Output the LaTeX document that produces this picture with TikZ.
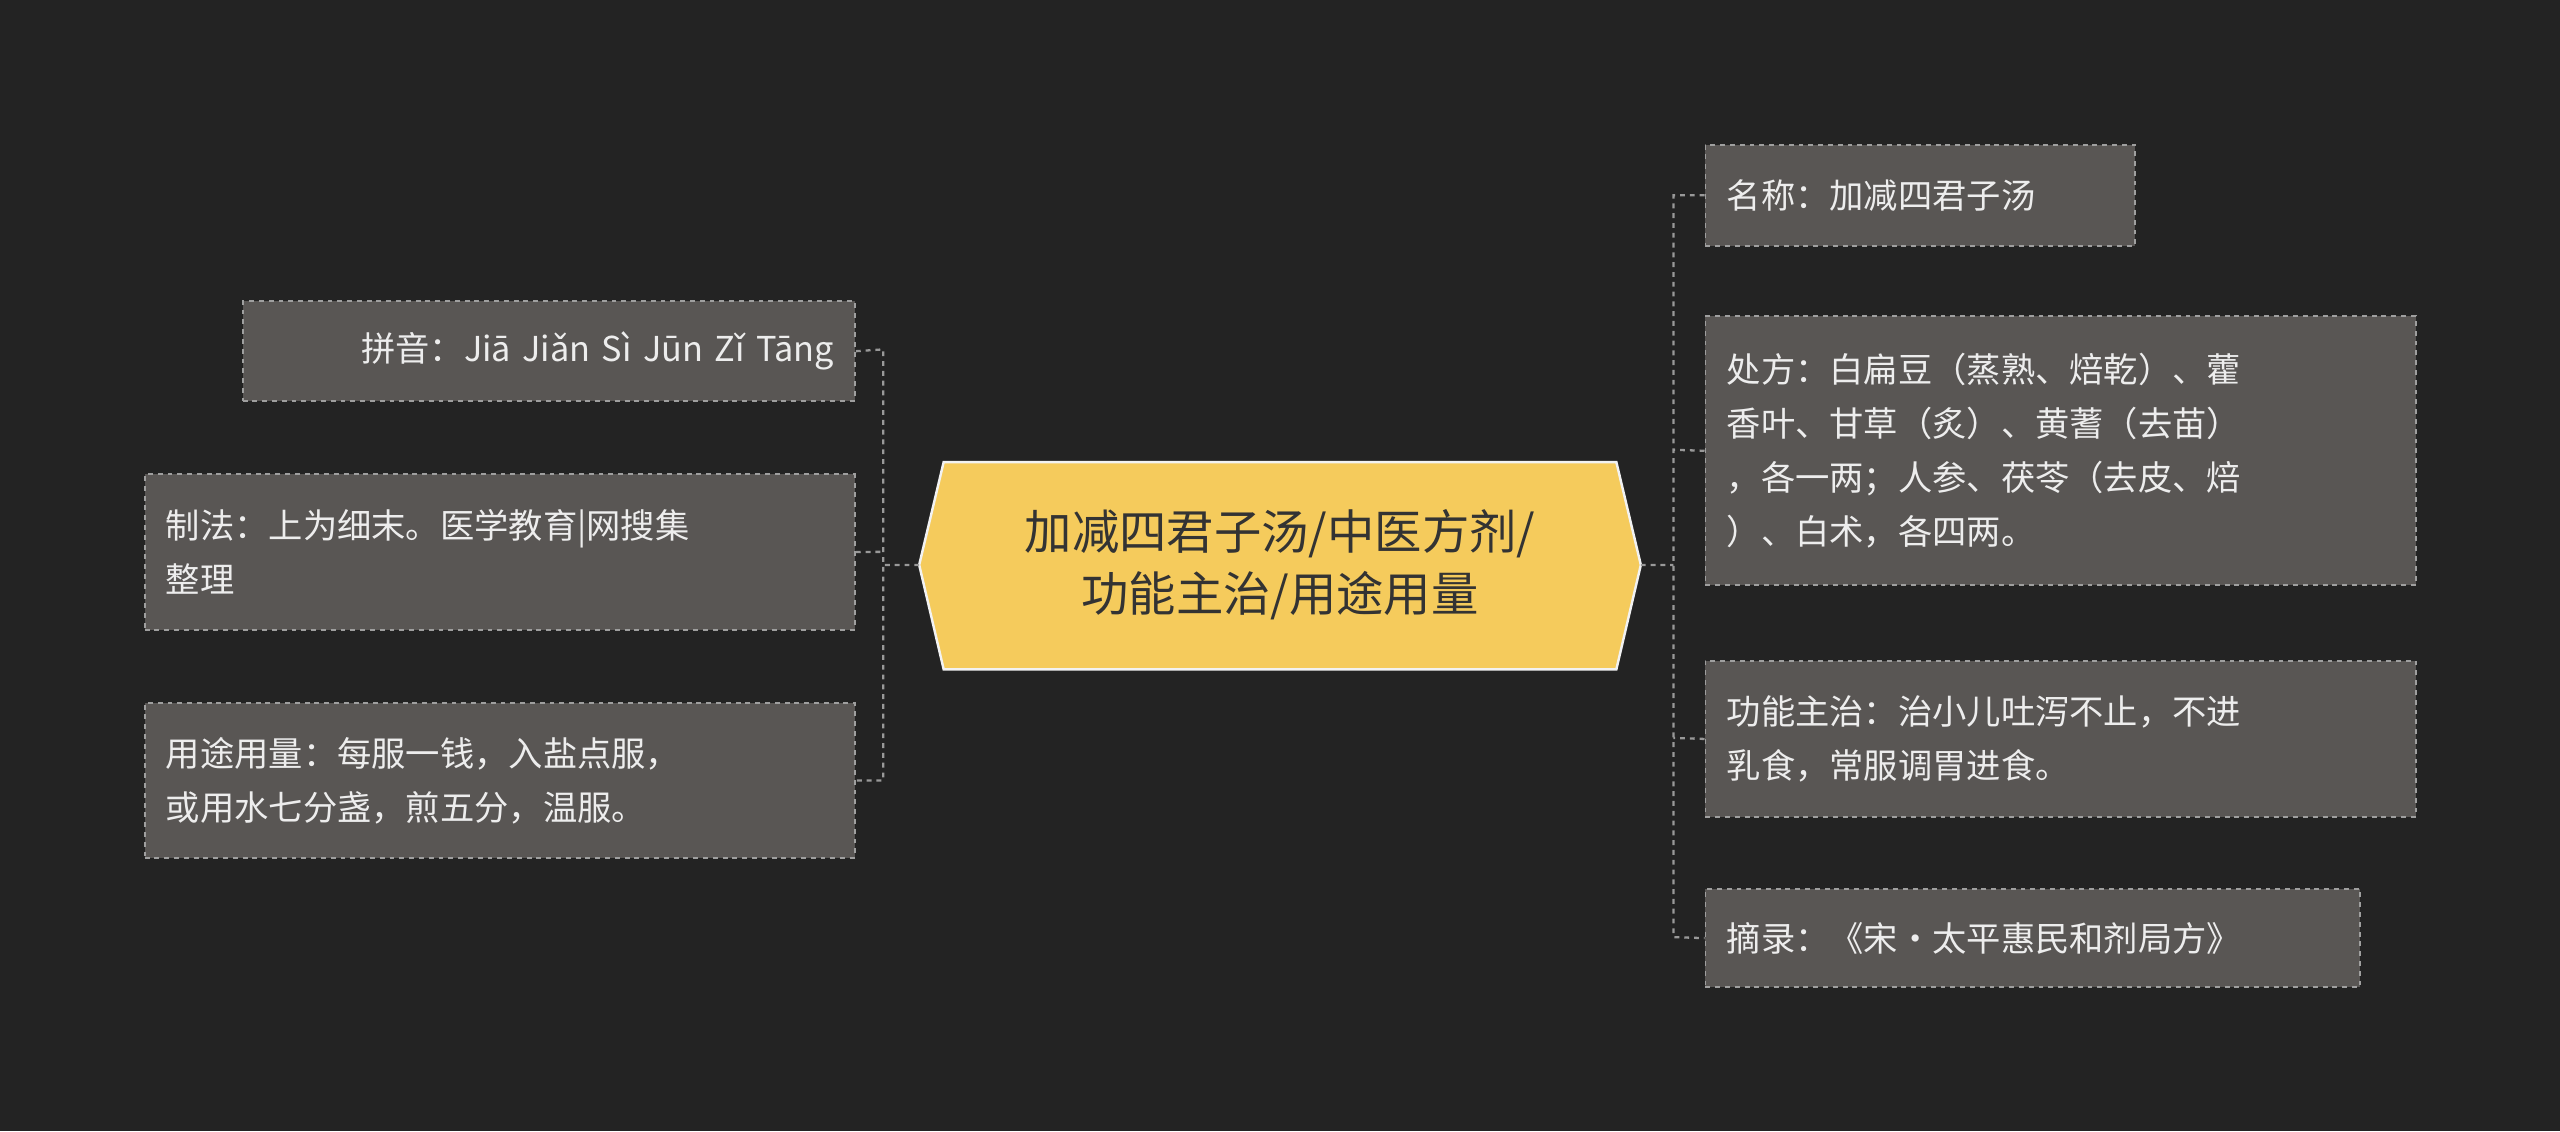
\documentclass[tikz,border=0pt]{standalone}
\usepackage{fontspec}
\setmainfont{Noto Sans CJK SC}
\begin{document}
\begin{tikzpicture}[x=1pt,y=-1pt,
  leaf/.style={draw=gray!75,dashed,line width=1.2pt,fill=leafc,text=txt,font=\fontsize{21}{33}\selectfont,inner xsep=13pt,align=left,anchor=north west},
  conn/.style={draw=gray!80,dashed,line width=1.4pt}]
\definecolor{bg}{HTML}{232323}
\definecolor{leafc}{HTML}{595654}
\definecolor{txt}{HTML}{EDEDED}
\definecolor{cen}{HTML}{F5CB5C}
\fill[bg] (0,0) rectangle (1568,693);
\useasboundingbox (0,0) rectangle (1568,693);
% center
\draw[fill=cen,draw=white!90!gray,line width=1.5pt] (563,346) -- (578,283) -- (990,283) -- (1005,346) -- (990,410) -- (578,410) -- cycle;
\node[text=black!80,font=\fontsize{29}{38}\selectfont,align=center] (c) at (784,346) {加减四君子汤/中医方剂/\\功能主治/用途用量};
\coordinate (cl) at (563,346);
\coordinate (cr) at (1005,346);
% left nodes
\node[leaf,minimum width=375,minimum height=61,text width=349,align=right] (l1) at (148,184) {拼音：Jiā Jiǎn Sì Jūn Zǐ Tāng};
\node[leaf,minimum width=435,minimum height=95,text width=409] (l2) at (88,290) {制法：上为细末。医学教育|网搜集\\整理};
\node[leaf,minimum width=435,minimum height=95,text width=409] (l3) at (88,430) {用途用量：每服一钱，入盐点服，\\或用水七分盏，煎五分，温服。};
% right nodes
\node[leaf,minimum width=263,minimum height=62,text width=237] (r1) at (1044,88) {名称：加减四君子汤};
\node[leaf,minimum width=435,minimum height=165,text width=409] (r2) at (1044,193) {处方：白扁豆（蒸熟、焙乾）、藿\\香叶、甘草（炙）、黄蓍（去苗）\\，各一两；人参、茯苓（去皮、焙\\）、白术，各四两。};
\node[leaf,minimum width=435,minimum height=96,text width=409] (r3) at (1044,404) {功能主治：治小儿吐泻不止，不进\\乳食，常服调胃进食。};
\node[leaf,minimum width=401,minimum height=60,text width=375] (r4) at (1044,544) {摘录：《宋·太平惠民和剂局方》};
% connectors
\draw[conn] (cl) -- (541,346) (l1.east) -- (541,214) -- (541,478) -- (l3.east) (l2.east) -- (541,338);
\draw[conn] (cr) -- (1025,346) (r1.west) -| (1025,574) -- (r4.west) (r2.west) -- (1025,275.5) (r3.west) -- (1025,452);
\end{tikzpicture}
\end{document}
